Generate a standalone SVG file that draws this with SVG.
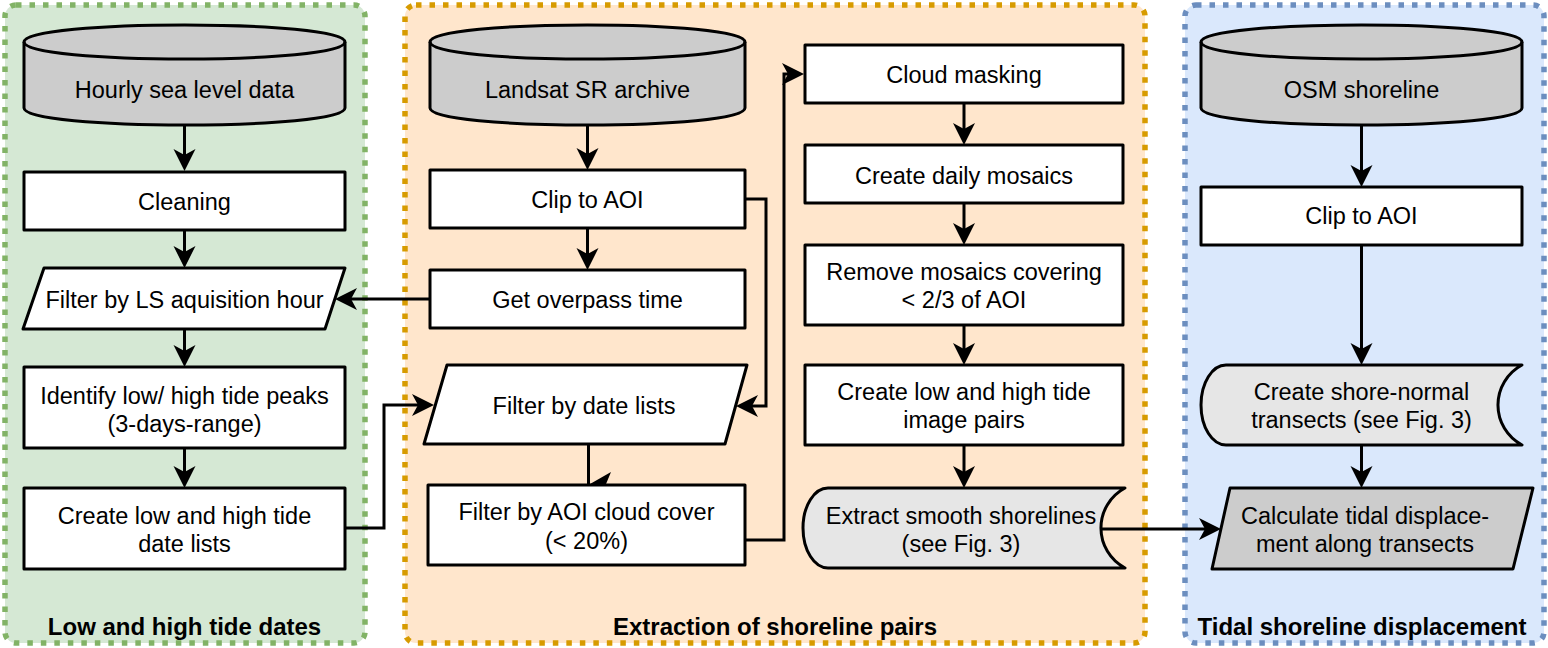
<svg xmlns="http://www.w3.org/2000/svg" width="1548" height="648" viewBox="0 0 1548 648">
<defs>
<style>
.cont{stroke-width:5.5;stroke-dasharray:5.5 8;}
.node{stroke:#000;stroke-width:3;stroke-linejoin:round;}
.w{fill:#fff;}
.g{fill:#ccc;}
.lg{fill:#e6e6e6;}
.t{font-family:"Liberation Sans",Arial,sans-serif;font-size:23.5px;fill:#000;text-anchor:middle;}
.lbl{font-family:"Liberation Sans",Arial,sans-serif;font-size:24px;font-weight:bold;fill:#000;text-anchor:middle;}
.c{fill:none;stroke:#000;stroke-width:3;marker-end:url(#arr);}
</style>
<marker id="arr" viewBox="0 0 22 24" refX="6" refY="12" markerWidth="22" markerHeight="24" markerUnits="userSpaceOnUse" orient="auto">
<path d="M0,1 L22,12 L0,23 L6,12 Z" fill="#000"/>
</marker>
</defs>

<g id="containers">
<rect id="grp-low-high" class="cont" x="5" y="5" width="360" height="638" rx="11" fill="#d5e8d4" stroke="#82b366"/>
<rect id="grp-extraction" class="cont" x="405" y="5" width="740" height="638" rx="11" fill="#ffe6cc" stroke="#d79b00"/>
<rect id="grp-tidal" class="cont" x="1185" y="5" width="359" height="638" rx="11" fill="#dae8fc" stroke="#6c8ebf"/>
<text class="lbl" x="184.5" y="635">Low and high tide dates</text>
<text class="lbl" x="775" y="635">Extraction of shoreline pairs</text>
<text class="lbl" x="1362" y="635">Tidal shoreline displacement</text>
</g>

<g id="connectors">
<path class="c" d="M184.5,125 V155"/>
<path class="c" d="M184.5,230 V252"/>
<path class="c" d="M184.5,329 V351"/>
<path class="c" d="M184.5,448 V472"/>
<path class="c" d="M587.5,125 V154"/>
<path class="c" d="M587.5,228 V254"/>
<path class="c" d="M430,299 H351"/>
<path class="c" d="M745,199 H766 V406 H752"/>
<path class="c" d="M345,528 H384 V405 H418"/>
<path d="M588.5,444 V485" fill="none" stroke="#000" stroke-width="3"/>
<polygon points="590,484 611,472 606,484" fill="#000"/>
<path class="c" d="M745,540 H784 V74 H788"/>
<path class="c" d="M964,103 V129"/>
<path class="c" d="M964,203 V229"/>
<path class="c" d="M964,325 V349"/>
<path class="c" d="M964,445 V472"/>
<path class="c" d="M1101,529 H1205"/>
<path class="c" d="M1361.5,125 V171"/>
<path class="c" d="M1361.5,245 V349"/>
<path class="c" d="M1361.5,445 V472"/>
</g>

<g id="hourly-sea-level">
<path class="node g" d="M24,42 C24,19.3 345,19.3 345,42 L345,108 C345,130.7 24,130.7 24,108 Z"/>
<path class="node" fill="none" d="M24,42 C24,64.7 345,64.7 345,42"/>
<text class="t" x="184.5" y="98">Hourly sea level data</text>
</g>
<g id="cleaning">
<rect class="node w" x="24" y="172" width="321" height="58"/>
<text class="t" x="184.5" y="210">Cleaning</text>
</g>
<g id="filter-ls-hour">
<polygon class="node w" points="44,268 345,268 325,329 23,329"/>
<text class="t" x="184.5" y="308">Filter by LS aquisition hour</text>
</g>
<g id="identify-peaks">
<rect class="node w" x="24" y="367" width="321" height="81"/>
<text class="t" x="184.5" y="404">Identify low/ high tide peaks</text>
<text class="t" x="184.5" y="432">(3-days-range)</text>
</g>
<g id="date-lists">
<rect class="node w" x="24" y="488" width="321" height="81"/>
<text class="t" x="184.5" y="524">Create low and high tide</text>
<text class="t" x="184.5" y="552">date lists</text>
</g>

<g id="landsat-archive">
<path class="node g" d="M430,42 C430,19.3 745,19.3 745,42 L745,108 C745,130.7 430,130.7 430,108 Z"/>
<path class="node" fill="none" d="M430,42 C430,64.7 745,64.7 745,42"/>
<text class="t" x="587.5" y="98">Landsat SR archive</text>
</g>
<g id="clip-aoi-1">
<rect class="node w" x="430" y="170" width="315" height="58"/>
<text class="t" x="587.5" y="208">Clip to AOI</text>
</g>
<g id="overpass-time">
<rect class="node w" x="430" y="270" width="315" height="58"/>
<text class="t" x="587.5" y="308">Get overpass time</text>
</g>
<g id="filter-date-lists">
<polygon class="node w" points="447,365 747,365 725,444 424,444"/>
<text class="t" x="584" y="414">Filter by date lists</text>
</g>
<g id="filter-cloud-cover">
<rect class="node w" x="428" y="485" width="317" height="80"/>
<text class="t" x="586.5" y="520">Filter by AOI cloud cover</text>
<text class="t" x="586.5" y="549">(&lt; 20%)</text>
</g>

<g id="cloud-masking">
<rect class="node w" x="805" y="45" width="318" height="58"/>
<text class="t" x="964" y="83">Cloud masking</text>
</g>
<g id="daily-mosaics">
<rect class="node w" x="805" y="145" width="318" height="58"/>
<text class="t" x="964" y="184">Create daily mosaics</text>
</g>
<g id="remove-mosaics">
<rect class="node w" x="805" y="245" width="318" height="80"/>
<text class="t" x="964" y="280">Remove mosaics covering</text>
<text class="t" x="964" y="308">&lt; 2/3 of AOI</text>
</g>
<g id="image-pairs">
<rect class="node w" x="805" y="365" width="318" height="80"/>
<text class="t" x="964" y="400">Create low and high tide</text>
<text class="t" x="964" y="428">image pairs</text>
</g>
<g id="extract-shorelines">
<path class="node lg" d="M828,488 L1125,488 A45.3,45.3 0 0 0 1125,568 L828,568 A25,40 0 0 1 828,488 Z"/>
<text class="t" x="961" y="524">Extract smooth shorelines</text>
<text class="t" x="961" y="552">(see Fig. 3)</text>
</g>

<g id="osm-shoreline">
<path class="node g" d="M1201,42 C1201,19.3 1522,19.3 1522,42 L1522,108 C1522,130.7 1201,130.7 1201,108 Z"/>
<path class="node" fill="none" d="M1201,42 C1201,64.7 1522,64.7 1522,42"/>
<text class="t" x="1361.5" y="98">OSM shoreline</text>
</g>
<g id="clip-aoi-2">
<rect class="node w" x="1201" y="187" width="321" height="58"/>
<text class="t" x="1361.5" y="224">Clip to AOI</text>
</g>
<g id="shore-normal">
<path class="node lg" d="M1226,365 L1522,365 A45.3,45.3 0 0 0 1522,445 L1226,445 A25,40 0 0 1 1226,365 Z"/>
<text class="t" x="1361.5" y="400">Create shore-normal</text>
<text class="t" x="1361.5" y="428">transects (see Fig. 3)</text>
</g>
<g id="tidal-displacement">
<polygon class="node g" points="1230,488 1533,488 1513,569 1212,569"/>
<text class="t" x="1365" y="524">Calculate tidal displace-</text>
<text class="t" x="1365" y="552">ment along transects</text>
</g>
</svg>
